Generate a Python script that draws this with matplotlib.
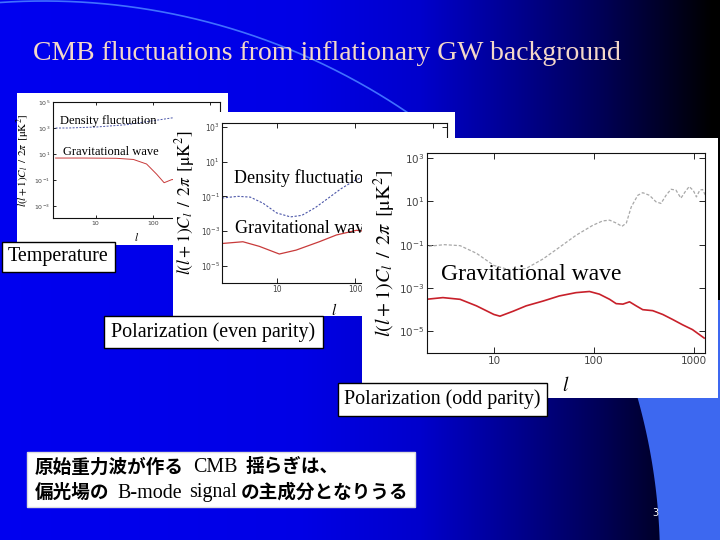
import numpy as np
import matplotlib
matplotlib.use("Agg")
import matplotlib.pyplot as plt
from matplotlib.patches import Rectangle, Polygon
from matplotlib.ticker import FixedLocator, NullLocator

# ---------------- data ----------------
# Temperature panel
tt_density_l = [2, 3.3, 10.5, 35, 96, 218, 400, 540, 800, 1300]
tt_density = [1.0e3, 1.0e3, 1.2e3, 1.8e3, 3.5e3, 6.0e3, 2.0e3, 2.5e3, 2.2e3, 8.0e2]
tt_gw_l = [2, 6.1, 23, 46, 78, 117, 158, 218, 300]
tt_gw = [4.9, 4.9, 4.7, 3.8, 1.7, 0.28, 0.062, 0.11, 0.08]

# E-mode (even parity) density fluctuation
ee_density_l = [2, 3.2, 4.6, 6.7, 10, 15, 21, 31, 45, 66, 97, 122, 143, 166, 190,
                210, 235, 273, 306, 357, 415, 466, 523, 586, 656, 736, 813, 890,
                981, 1050, 1137, 1210, 1300]
ee_density = [0.08, 0.10, 0.09, 0.04, 0.011, 0.0065, 0.008, 0.022, 0.075, 0.27,
              0.78, 1.25, 1.35, 1.0, 0.7, 1.0, 5.5, 19, 25, 19, 9.5, 8, 19, 36,
              33, 14, 28, 48, 31, 16, 33, 35, 18]
# E-mode from gravitational waves
ee_gw_l = [2, 3.7, 6, 10.8, 17.7, 35, 58, 105, 150]
ee_gw = [1.9e-4, 2.4e-4, 1.3e-4, 4.7e-5, 7.9e-5, 2.4e-4, 5.9e-4, 1.1e-3, 9e-4]

# B-mode (odd parity) from gravitational waves
bb_gw_l = [2.1, 3.1, 4.6, 6.7, 10, 11.5, 15.6, 21, 31, 45, 66, 90, 113, 143, 166,
           194, 226, 263, 306, 385, 485, 610, 765, 960, 1255]
bb_gw = [3.0e-4, 3.6e-4, 3.0e-4, 1.5e-4, 6e-5, 5e-5, 8.5e-5, 1.5e-4, 2.5e-4,
         4.3e-4, 6.1e-4, 6.9e-4, 5.2e-4, 3.0e-4, 1.9e-4, 1.8e-4, 2.3e-4, 1.5e-4,
         1.0e-4, 9e-5, 6e-5, 3.5e-5, 2.0e-5, 1.2e-5, 4.9e-6]

x_ticks = [10, 100, 1000]
x_tick_labels = ["10", "100", "1000"]
title = "CMB fluctuations from inflationary GW background"
ylabel = r"$l(l+1)C_l\ \,/\ \,2\pi\ \,[\mathrm{\mu K}^2]$"
# Japanese note: (text, is_japanese) segments per line
jp_line1 = [("原始重力波が作る", True), ("CMB", False), ("揺らぎは、", True)]
jp_line2 = [("偏光場の", True), ("B-mode", False), ("signal", False), ("の主成分となりうる", True)]

# ---------------- figure ----------------
plt.rcParams["mathtext.fontset"] = "stix"
plt.rcParams["font.family"] = ["DejaVu Sans"]
W, H = 720, 540
fig = plt.figure(figsize=(7.2, 5.4), dpi=100)


def fx(x):
    return x / W


def fy(y):
    return 1 - y / H


def rect(x0, y0, x1, y1):
    return [x0 / W, 1 - y1 / H, (x1 - x0) / W, (y1 - y0) / H]


# background gradient
bg = fig.add_axes([0, 0, 1, 1], zorder=-100)
xs = np.arange(W)
blue = np.interp(xs, [0, 300, 420, 520, 600, 660, 712, 720],
                 [0.94, 0.90, 0.80, 0.55, 0.34, 0.16, 0.0, 0.0])
img = np.zeros((H, W, 3))
img[:, :, 2] = blue[None, :]
bg.imshow(img, extent=[0, W, H, 0], aspect="auto", interpolation="bilinear")
# decorative arc
ax_arc = np.linspace(0, 460, 200)
ay_arc = 649 - np.sqrt(648 ** 2 - (ax_arc - 44) ** 2)
bg.plot(ax_arc, ay_arc, color="#4070ff", lw=1.2)
# light blue corner
py = np.linspace(300, 540, 60)
px = 62 + np.sqrt(598 ** 2 - (560 - py) ** 2)
poly = np.column_stack([np.r_[px, 720, 720], np.r_[py, 540, 300]])
bg.add_patch(Polygon(poly, closed=True, fc="#3d68f0", ec="none"))
bg.set_xlim(0, W)
bg.set_ylim(H, 0)
bg.axis("off")

fig.text(fx(33), fy(60), title, fontsize=20, family="Liberation Serif",
         color="#f4d8c8", ha="left", va="baseline")
fig.text(fx(655), fy(513), "3", fontsize=7, color="white", ha="center", va="center")


def white_panel(x0, y0, x1, y1, z, ec="none"):
    fig.add_artist(Rectangle((fx(x0), fy(y1)), (x1 - x0) / W, (y1 - y0) / H,
                             transform=fig.transFigure, fc="white", ec=ec,
                             lw=1.0, zorder=z))


def label_box(x0, y0, x1, y1, text, z, fs=14.4):
    white_panel(x0, y0, x1, y1, z, ec="black")
    fig.text(fx((x0 + x1) / 2), fy((y0 + y1) / 2), text, fontsize=fs,
             family="Liberation Serif", ha="center", va="center", zorder=z + 0.5)


def setup(ax, xlim, ylim, yticks, fs_tick, ticklen, fs_lab, fs_l, ylab_x, xlab_y, pad):
    ax.set_xscale("log")
    ax.set_yscale("log")
    ax.set_xlim(*xlim)
    ax.set_ylim(*ylim)
    ax.xaxis.set_major_locator(FixedLocator(x_ticks))
    ax.xaxis.set_minor_locator(NullLocator())
    ax.set_xticklabels(x_tick_labels)
    ax.yaxis.set_major_locator(FixedLocator(yticks))
    ax.yaxis.set_minor_locator(NullLocator())
    ax.set_yticklabels([r"$\mathregular{10^{%d}}$" % int(round(np.log10(t))) for t in yticks])
    ax.tick_params(direction="in", top=True, right=True, length=ticklen, width=0.6,
                   labelsize=fs_tick, labelcolor="#444444", pad=pad)
    for s in ax.spines.values():
        s.set_linewidth(0.8)
        s.set_color("#111111")
    ax.set_facecolor("white")
    ax.set_ylabel(ylabel, fontsize=fs_lab)
    ax.yaxis.set_label_coords(ylab_x, 0.5)
    ax.set_xlabel(r"$l$", fontsize=fs_l)
    ax.xaxis.set_label_coords(0.5, xlab_y)


# ---- panel 1 : temperature ----
white_panel(17, 93, 228, 245, 10)
ax1 = fig.add_axes(rect(53, 102, 220, 218), zorder=11)
setup(ax1, (1.8, 1500), (1.2e-4, 1e5), [1e-3, 1e-1, 1e1, 1e3, 1e5], 4.5, 2.5, 8, 8,
      -0.125, -0.11, 2)
ax1.plot(tt_density_l, tt_density, color="#4a55a8", lw=0.7, ls=(0, (2, 1.5)))
ax1.plot(tt_gw_l, tt_gw, color="#c83a3a", lw=0.7)
ax1.text(fx(60), fy(121), "Density fluctuation", transform=fig.transFigure,
         fontsize=9, family="Liberation Serif", va="center")
ax1.text(fx(63), fy(152), "Gravitational wave", transform=fig.transFigure,
         fontsize=9, family="Liberation Serif", va="center")
label_box(2, 242, 115, 272, "Temperature", 12)

# ---- panel 2 : even parity ----
white_panel(173, 112, 455, 316, 20)
ax2 = fig.add_axes(rect(222, 123, 447, 283), zorder=21)
setup(ax2, (2, 1500), (1e-6, 1.7e3), [1e-5, 1e-3, 1e-1, 1e1, 1e3], 5.5, 3.5, 12.5, 11,
      -0.11, -0.12, 1.5)
ax2.plot(ee_density_l, ee_density, color="#4a55a8", lw=0.8, ls=(0, (2, 1.5)))
ax2.plot(ee_gw_l, ee_gw, color="#c83a3a", lw=0.9)
ax2.text(fx(234), fy(178), "Density fluctuation", transform=fig.transFigure,
         fontsize=13, family="Liberation Serif", va="center")
ax2.text(fx(235), fy(228), "Gravitational wave", transform=fig.transFigure,
         fontsize=13, family="Liberation Serif", va="center")
label_box(104, 316, 323, 348, "Polarization (even parity)", 22)

# ---- panel 3 : odd parity ----
white_panel(362, 138, 718, 398, 30)
ax3 = fig.add_axes(rect(427, 153, 705, 353), zorder=31)
setup(ax3, (2.15, 1280), (1e-6, 1.7e3), [1e-5, 1e-3, 1e-1, 1e1, 1e3], 7.5, 4.5, 14.5, 14,
      -0.105, -0.115, 2)
ax3.plot(ee_density_l, ee_density, color="#a8a8a8", lw=0.9, ls=(0, (2.5, 1.5)))
ax3.plot(bb_gw_l, bb_gw, color="#c8202a", lw=1.2)
ax3.text(fx(441), fy(275), "Gravitational wave", transform=fig.transFigure,
         fontsize=17, family="Liberation Serif", va="center")
label_box(338, 383, 547, 416, "Polarization (odd parity)", 32)

# ---- Japanese note ----
white_panel(27, 452, 415, 507, 40, ec="#dddddd")
seg_x1 = [35, 193, 246]
seg_x2 = [35, 117, 189, 241]
for line, xs_seg, yc in [(jp_line1, seg_x1, 467), (jp_line2, seg_x2, 492)]:
    for (txt, is_jp), x0 in zip(line, xs_seg):
        if is_jp:
            fig.text(fx(x0), fy(yc), txt, fontsize=13.4, family="Noto Sans CJK JP",
                     weight="bold", va="center", zorder=41)
        else:
            fig.text(fx(x0), fy(yc + 1), txt, fontsize=14.4, family="Liberation Serif",
                     va="center", zorder=41)

fig.savefig("out.png", dpi=100)
